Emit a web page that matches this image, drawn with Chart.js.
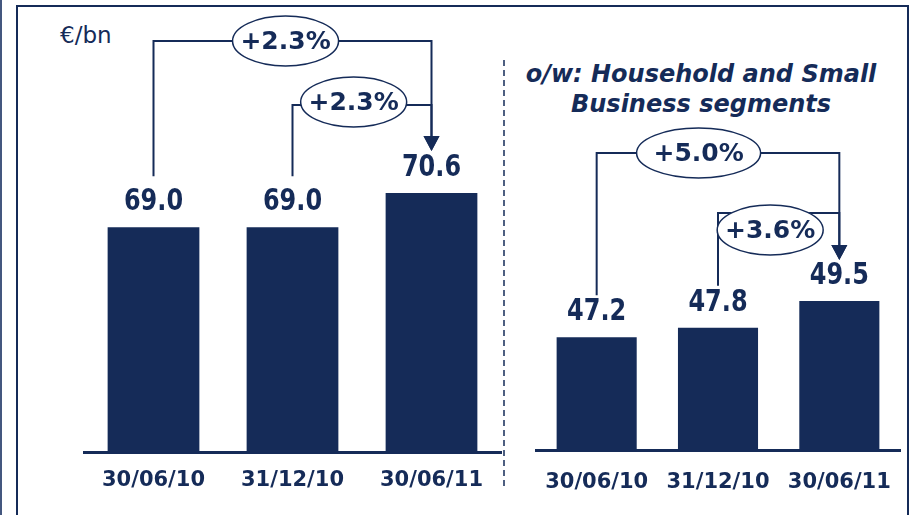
<!DOCTYPE html>
<html>
<head>
<meta charset="utf-8">
<script src="https://cdn.jsdelivr.net/npm/chart.js@4.4.0/dist/chart.umd.min.js"></script>
<style>
  body { margin: 0; background: #fff; width: 913px; height: 515px; overflow: hidden; position: relative; font-family: "DejaVu Sans", sans-serif; }
  canvas { position: absolute; left: 0; top: 0; }
  .frame { position: absolute; left: 16px; top: 5px; width: 889px; height: 540px; border: 2px solid #152b58; border-bottom: none; }
  .edge { position: absolute; left: 0; top: 0; width: 2px; height: 515px; background: #44577f; }
  .unit { position: absolute; left: 60px; top: 22px; font-size: 23px; color: #152b58; }
  .title { position: absolute; left: 500px; width: 402px; top: 59px; text-align: center; font-size: 24px; line-height: 30px; font-weight: bold; font-style: italic; color: #152b58; }
</style>
</head>
<body>
<div class="edge"></div>
<div class="frame"></div>
<div class="unit">€/bn</div>
<div class="title">o/w: Household and Small<br>Business segments</div>
<canvas id="totalChart" width="913" height="515"></canvas>
<canvas id="segmentChart" width="913" height="515"></canvas>
<script>
const categories = ['30/06/10', '31/12/10', '30/06/11'];
const totalValues = [69.0, 69.0, 70.6];
const segmentValues = [47.2, 47.8, 49.5];
const totalGrowth = ['+2.3%', '+2.3%'];
const segmentGrowth = ['+5.0%', '+3.6%'];

const NAVY = '#152b58';

// value labels above the bars + growth brackets pointing at the last bar
const barNotes = {
  id: 'barNotes',
  afterDatasetsDraw(chart, args, opts) {
    const ctx = chart.ctx;
    const meta = chart.getDatasetMeta(0);
    const values = chart.data.datasets[0].data;
    ctx.save();
    ctx.fillStyle = NAVY;
    ctx.strokeStyle = NAVY;
    ctx.textAlign = 'center';
    ctx.textBaseline = 'middle';

    meta.data.forEach((bar, i) => {
      ctx.save();
      ctx.translate(bar.x, bar.y - opts.gap);
      ctx.scale(0.8, 1);
      ctx.font = 'bold 30px "DejaVu Sans"';
      ctx.fillText(values[i].toFixed(1), 0, 0);
      ctx.restore();
    });

    opts.brackets.forEach(b => {
      const from = meta.data[b.from];
      const to = meta.data[b.to];
      const yStart = from.y - opts.gap - opts.stem;
      const yTip = to.y - opts.gap - opts.tip;
      ctx.lineWidth = 2;
      ctx.beginPath();
      ctx.moveTo(from.x, yStart);
      ctx.lineTo(from.x, b.level);
      ctx.lineTo(to.x, b.level);
      ctx.lineTo(to.x, yTip - 14);
      ctx.stroke();
      ctx.beginPath();
      ctx.moveTo(to.x - 8, yTip - 15);
      ctx.lineTo(to.x + 8, yTip - 15);
      ctx.lineTo(to.x, yTip);
      ctx.closePath();
      ctx.fill();

      const cx = from.x + (to.x - from.x) * b.at;
      const cy = b.level + (b.dy || 0);
      ctx.beginPath();
      ctx.ellipse(cx, cy, b.rx, 25, 0, 0, Math.PI * 2);
      ctx.fillStyle = '#fff';
      ctx.fill();
      ctx.lineWidth = 1.5;
      ctx.stroke();
      ctx.fillStyle = NAVY;
      ctx.font = 'bold 25px "DejaVu Sans"';
      ctx.fillText(b.text, cx, cy + 1);
    });

    if (opts.divider) {
      ctx.setLineDash([6, 4]);
      ctx.lineWidth = 1.5;
      ctx.beginPath();
      ctx.moveTo(opts.divider, 60);
      ctx.lineTo(opts.divider, 486);
      ctx.stroke();
    }
    ctx.restore();
  }
};

function makeChart(id, values, scale, padding, tickPad, notes) {
  return new Chart(document.getElementById(id), {
    type: 'bar',
    data: {
      labels: categories,
      datasets: [{
        data: values,
        backgroundColor: NAVY,
        categoryPercentage: 1,
        barPercentage: 0.66
      }]
    },
    options: {
      responsive: false,
      animation: false,
      devicePixelRatio: 1,
      layout: { padding: padding },
      scales: {
        x: {
          grid: { display: false, drawTicks: false },
          border: { display: true, color: NAVY, width: 3 },
          ticks: { color: NAVY, padding: tickPad, font: { family: 'DejaVu Sans', size: 21, weight: 'bold' } }
        },
        y: { display: false, min: scale[0], max: scale[1] }
      },
      plugins: {
        legend: { display: false },
        tooltip: { enabled: false },
        barNotes: notes
      }
    },
    plugins: [barNotes]
  });
}

makeChart('totalChart', totalValues, [58.4, 76.85],
  { left: 84, right: 412, top: 60, bottom: 7 }, 15,
  {
    gap: 25, stem: 26, tip: 17,
    brackets: [
      { from: 0, to: 2, level: 41, at: 0.475, rx: 53, text: totalGrowth[0] },
      { from: 1, to: 2, level: 105, at: 0.44, rx: 53, dy: -3, text: totalGrowth[1] }
    ]
  });

makeChart('segmentChart', segmentValues, [40, 64.78],
  { left: 536, right: 13, top: 60, bottom: 1 }, 19,
  {
    gap: 25, stem: 17, tip: 16, divider: 504,
    brackets: [
      { from: 0, to: 2, level: 153, at: 0.42, rx: 62, text: segmentGrowth[0] },
      { from: 1, to: 2, level: 213, at: 0.43, rx: 53, dy: 17, text: segmentGrowth[1] }
    ]
  });
</script>
</body>
</html>
